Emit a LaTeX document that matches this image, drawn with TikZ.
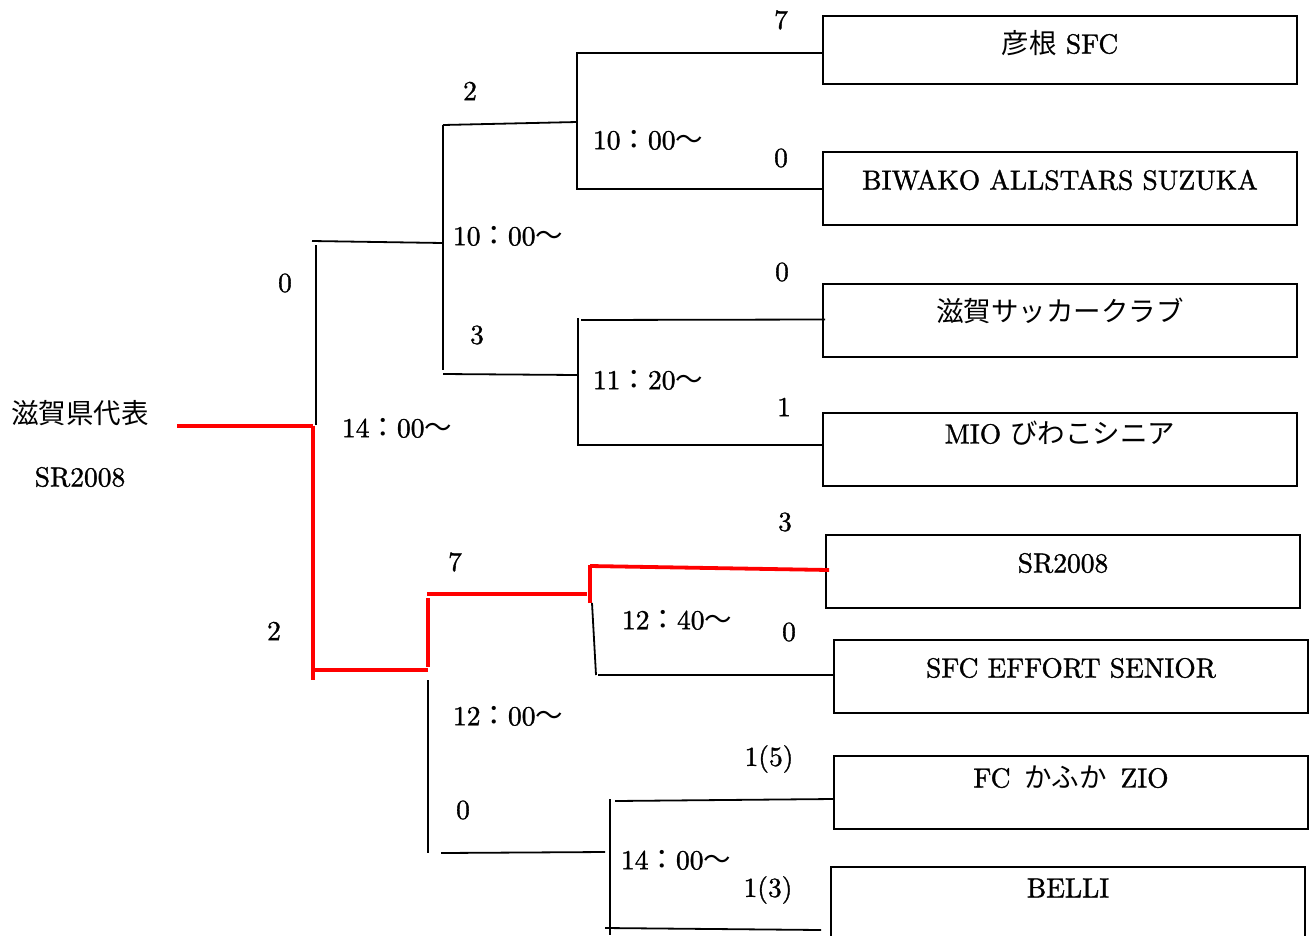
\documentclass[tikz,border=0pt]{standalone}
\usepackage{fontspec}
\setmainfont{lmroman10-regular}[Extension=.otf,BoldFont=lmroman10-bold,RawFeature={embolden=1.2}]
\newfontfamily\cjk{Noto Sans CJK JP}
\newcommand{\jp}[1]{{\cjk #1}}
\usetikzlibrary{calc}
\begin{document}
\begin{tikzpicture}[x=1pt,y=-1pt,
  team/.style={draw=black,line width=1.8pt,minimum width=474pt,minimum height=72pt,inner sep=0pt},
  lbl/.style={inner sep=0pt,font=\fontsize{27.5}{32}\selectfont},
  bl/.style={draw=black,line width=1.8pt},
  rd/.style={draw=red,line width=3.8pt}]
\useasboundingbox (0,0) rectangle (1314,935);
% team boxes
\node[team,minimum height=68pt] (t1) at (1060,50) {};
\node[team,minimum height=73pt] (t2) at (1060,188.5) {};
\node[team,minimum height=73pt] (t3) at (1060,320.5) {};
\node[team,minimum height=73pt] (t4) at (1060,449.5) {};
\node[team,minimum height=73pt] (t5) at (1063,571.5) {};
\node[team,minimum height=73pt] (t6) at (1071,676.5) {};
\node[team,minimum height=73pt] (t7) at (1071,792.5) {};
\node[team,minimum height=73pt] (t8) at (1068,903.5) {};
% team names
\node[lbl] (n1) at (1060,43) {\jp{彦根} SFC};
\node[lbl] (n2) at (1060,180) {BIWAKO ALLSTARS SUZUKA};
\node[lbl] (n3) at (1060,311) {\jp{滋賀サッカークラブ}};
\node[lbl] (n4) at (1060,433) {MIO \jp{びわこシニア}};
\node[lbl] (n5) at (1063,563) {SR2008};
\node[lbl] (n6) at (1071,668) {SFC EFFORT SENIOR};
\node[lbl] (n7) at (1071,777) {FC\hspace{0.5em}\jp{かふか}\hspace{0.5em}ZIO};
\node[lbl] (n8) at (1068,888) {BELLI};
% winner
\node[lbl] (w1) at (80,413) {\jp{滋賀県代表}};
\node[lbl] (w2) at (80,477) {SR2008};
% bracket coordinates
\coordinate (a1) at (577,53);
\coordinate (a2) at (577,189);
\coordinate (a3) at (443,125);
\coordinate (a4) at (577,122);
\coordinate (b1) at (578,318);
\coordinate (b2) at (581,320);
\coordinate (b3) at (578,445);
\coordinate (b4) at (443,374);
\coordinate (b5) at (578,375);
\coordinate (c1) at (443,125);
\coordinate (c2) at (443,370);
\coordinate (c3) at (312,241);
\coordinate (c4) at (443,243);
\coordinate (s1) at (316,245);
\coordinate (s2) at (316,425);
\coordinate (s0) at (177,426);
\coordinate (s3) at (313,426);
\coordinate (s4) at (313,680);
\coordinate (s5) at (313,670);
\coordinate (s6) at (428,670);
\coordinate (s7) at (428,667);
\coordinate (s8) at (428,598);
\coordinate (s9) at (427,594);
\coordinate (s10) at (587,594);
\coordinate (e1) at (590,603);
\coordinate (e2) at (590,565);
\coordinate (e3) at (590,566);
\coordinate (e4) at (592,603);
\coordinate (e5) at (596,675);
\coordinate (e6) at (598,675);
\coordinate (f1) at (428,680);
\coordinate (f2) at (428,853);
\coordinate (f3) at (441,853);
\coordinate (f4) at (605,852);
\coordinate (d1) at (610,799);
\coordinate (d2) at (610,935);
\coordinate (d3) at (615,801);
\coordinate (d4) at (605,928);
% black lines
\draw[bl] (t1.west |- a1) -- (a1) -- (a2) -- (t2.west |- a2);
\draw[bl] (a3) -- (a4);
\draw[bl] (b1) -- (b3) -- (t4.west |- b3);
\draw[bl] (b2) -- ($(t3.west)+(3,-1)$);
\draw[bl] (b4) -- (b5);
\draw[bl] (c1) -- (c2);
\draw[bl] (c3) -- (c4);
\draw[bl] (s1) -- (s2);
\draw[bl] (e4) -- (e5);
\draw[bl] (e6) -- ($(t6.west)+(0,-1.5)$);
\draw[bl] (f1) -- (f2);
\draw[bl] (f3) -- (f4);
\draw[bl] (d1) -- (d2);
\draw[bl] (d3) -- ($(t7.west)+(0,6.5)$);
\draw[bl] (d4) -- ($(t8.west)+(-9,26.5)$);
% red lines
\draw[rd] (s0) -- (s3);
\draw[rd] (s3) -- (s4);
\draw[rd] (s5) -- (s6);
\draw[rd] (s7) -- (s8);
\draw[rd] (s9) -- (s10);
\draw[rd] (e1) -- (e2);
\draw[rd] (e3) -- ($(t5.west)+(4,-1.5)$);
% scores
\node[lbl] (p1) at (781,20) {7};
\node[lbl] (p2) at (781,158) {0};
\node[lbl] (p3) at (782,272) {0};
\node[lbl] (p4) at (784,407) {1};
\node[lbl] (p5) at (470,91) {2};
\node[lbl] (p6) at (477,335) {3};
\node[lbl] (p7) at (285,283) {0};
\node[lbl] (p8) at (274,631) {2};
\node[lbl] (p9) at (455,562) {7};
\node[lbl] (p10) at (463,810) {0};
\node[lbl] (p11) at (785,522) {3};
\node[lbl] (p12) at (789,632) {0};
\node[lbl] (p13) at (769,759) {1(5)};
\node[lbl] (p14) at (768,890) {1(3)};
% times
\node[lbl] (m1) at (648,140) {10\jp{：}00\jp{〜}};
\node[lbl] (m2) at (648,380) {11\jp{：}20\jp{〜}};
\node[lbl] (m3) at (508,236) {10\jp{：}00\jp{〜}};
\node[lbl] (m4) at (397,428) {14\jp{：}00\jp{〜}};
\node[lbl] (m5) at (677,620) {12\jp{：}40\jp{〜}};
\node[lbl] (m6) at (508,716) {12\jp{：}00\jp{〜}};
\node[lbl] (m7) at (676,860) {14\jp{：}00\jp{〜}};
\end{tikzpicture}
\end{document}
